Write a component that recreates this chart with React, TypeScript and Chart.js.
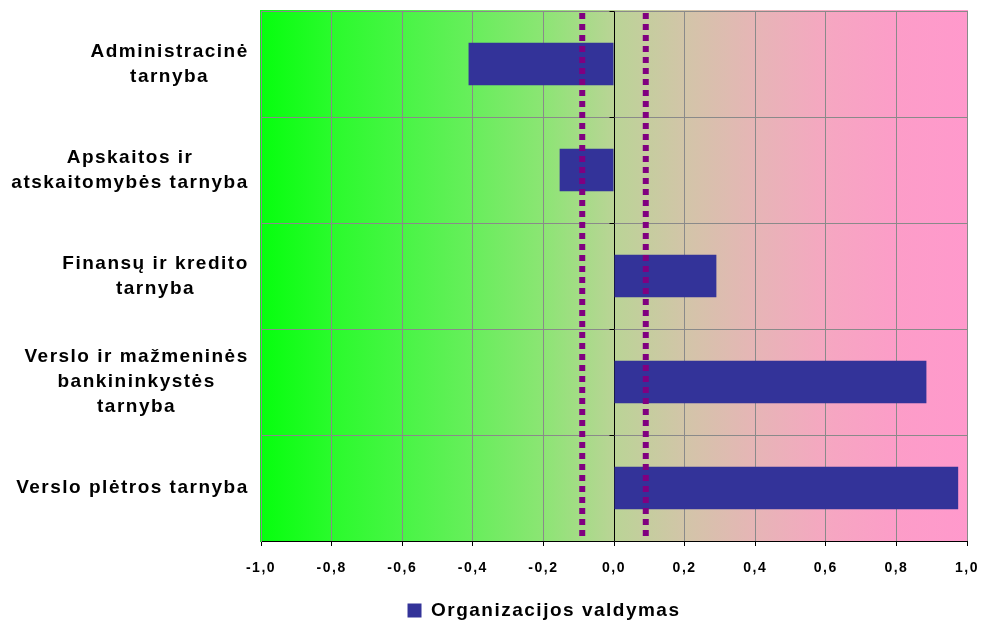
import { useEffect, useRef } from 'react';
import { Chart, registerables } from 'chart.js';

Chart.register(...registerables);

// Service units (y axis), multi-line labels
const categories: string[][] = [
  ['Administracinė', 'tarnyba'],
  ['Apskaitos ir', 'atskaitomybės tarnyba'],
  ['Finansų ir kredito', 'tarnyba'],
  ['Verslo ir mažmeninės', 'bankininkystės', 'tarnyba'],
  ['Verslo plėtros tarnyba'],
];

const seriesName = 'Organizacijos valdymas';
const seriesValues = [-0.412, -0.154, 0.29, 0.885, 0.975];

// Neutral band limits drawn as dotted vertical lines
const thresholds = [-0.09, 0.09];

const xMin = -1;
const xMax = 1;
const xStep = 0.2;

const FONT = "'Liberation Sans', Arial, sans-serif";
const LABEL_SIZE = 19;
const LABEL_LINE = 25;
const LABEL_GAP = 13;

// Background of the plot area: green (negative) to pink (positive)
const bgStops: [number, string][] = [
  [0.0, '#06ff0e'],
  [0.1, '#2afb2c'],
  [0.2, '#48f545'],
  [0.3, '#68ee5c'],
  [0.4, '#8ce574'],
  [0.5, '#bad496'],
  [0.6, '#d2c5a8'],
  [0.7, '#e6b5b6'],
  [0.8, '#f5a7c1'],
  [0.9, '#fc9dc8'],
  [1.0, '#ff99cc'],
];

const decorPlugin = {
  id: 'decor',
  beforeLayout(chart: any) {
    chart.ctx.letterSpacing = '1.5px';
  },
  afterLayout(chart: any) {
    const lg = chart.legend;
    if (lg) {
      lg.left = 103;
      lg.right = 985;
      lg.top += 10;
      lg.bottom += 10;
    }
  },
  beforeDraw(chart: any) {
    const { ctx, chartArea } = chart;
    ctx.letterSpacing = '1.5px';
    const { left, top, right, bottom } = chartArea;
    const g = ctx.createLinearGradient(left, 0, right, 0);
    bgStops.forEach(([p, c]) => g.addColorStop(p, c));
    ctx.save();
    ctx.fillStyle = g;
    ctx.fillRect(left - 1, top - 1, right - left + 2, bottom - top + 2);
    ctx.restore();
  },
  afterDatasetsDraw(chart: any) {
    const { ctx, chartArea } = chart;
    const xs = chart.scales.x;
    const ys = chart.scales.y;

    // small tick marks on the zero line at category boundaries
    const zx = Math.round(xs.getPixelForValue(0)) + 0.5;
    ctx.save();
    ctx.strokeStyle = '#000000';
    ctx.lineWidth = 1;
    for (let i = 0; i <= categories.length; i++) {
      const y = Math.round(ys.getPixelForValue(i - 0.5)) + 0.5;
      ctx.beginPath();
      ctx.moveTo(zx - 5, y);
      ctx.lineTo(zx, y);
      ctx.stroke();
    }
    ctx.restore();

    ctx.save();
    ctx.strokeStyle = '#800080';
    ctx.lineWidth = 6;
    ctx.lineCap = 'butt';
    ctx.setLineDash([6, 5]);
    thresholds.forEach((t) => {
      const px = xs.getPixelForValue(t);
      ctx.beginPath();
      ctx.moveTo(px, chartArea.top + 2);
      ctx.lineTo(px, chartArea.bottom);
      ctx.stroke();
    });
    ctx.restore();
  },
  afterDraw(chart: any) {
    // Category labels: each block sits against the axis, its lines centred within the block
    const { ctx, chartArea } = chart;
    const ys = chart.scales.y;
    const labels: string[][] = chart.data.labels;
    const rightEdge = chartArea.left - LABEL_GAP;
    ctx.save();
    ctx.letterSpacing = '1.5px';
    ctx.font = `bold ${LABEL_SIZE}px ${FONT}`;
    ctx.fillStyle = '#000000';
    ctx.textAlign = 'center';
    ctx.textBaseline = 'middle';
    labels.forEach((lines, i) => {
      const cy = ys.getPixelForTick(i);
      const widest = Math.max(...lines.map((l) => ctx.measureText(l).width));
      const cx = rightEdge - widest / 2;
      const y0 = cy - ((lines.length - 1) * LABEL_LINE) / 2;
      lines.forEach((l, k) => ctx.fillText(l, cx + 0.75, y0 + k * LABEL_LINE));
    });
    ctx.restore();
  },
};

export default function App() {
  const canvasRef = useRef<HTMLCanvasElement | null>(null);

  useEffect(() => {
    const canvas = canvasRef.current;
    if (!canvas) return;
    const chart = new Chart(canvas, {
      type: 'bar',
      data: {
        labels: categories,
        datasets: [
          {
            label: seriesName,
            data: seriesValues,
            backgroundColor: '#333399',
            borderWidth: 0,
            barPercentage: 0.4,
            categoryPercentage: 1,
          },
        ],
      },
      options: {
        indexAxis: 'y',
        responsive: false,
        animation: false,
        events: [],
        layout: { padding: { top: 11, left: 0, right: 14, bottom: 0 } },
        plugins: {
          tooltip: { enabled: false },
          legend: {
            position: 'bottom',
            align: 'center',
            labels: {
              color: '#000000',
              font: { family: FONT, size: 19, weight: 'bold' },
              boxWidth: 14,
              boxHeight: 14,
              padding: 10,
            },
          },
        },
        scales: {
          x: {
            type: 'linear',
            min: xMin,
            max: xMax,
            afterFit(scale: any) {
              scale.height = 40;
              scale.paddingLeft = 0;
              scale.paddingRight = 0;
            },
            ticks: {
              stepSize: xStep,
              color: '#000000',
              padding: 14,
              font: { family: FONT, size: 14, weight: 'bold' },
              callback: (v: any) => {
                const n = Number(v);
                return (Math.abs(n) < 1e-9 ? 0 : n).toFixed(1).replace('.', ',');
              },
            },
            grid: {
              color: (c: any) => (c.tick && Math.abs(c.tick.value) < 1e-9 ? '#000000' : '#8a8a8a'),
              lineWidth: 1,
              drawTicks: true,
              tickLength: 5,
              tickColor: '#000000',
            },
            border: { display: true, color: '#000000', width: 1 },
          },
          y: {
            type: 'category',
            afterFit(scale: any) {
              scale.width = 261;
              scale.paddingTop = 0;
              scale.paddingBottom = 0;
            },
            ticks: { display: false },
            grid: {
              color: '#8a8a8a',
              lineWidth: 1,
              drawTicks: false,
              offset: true,
            },
            border: { display: true, color: '#8a8a8a', width: 1 },
          },
        },
      },
      plugins: [decorPlugin],
    } as any);
    return () => chart.destroy();
  }, []);

  return (
    <div style={{ position: 'absolute', left: 0, top: 0, width: 981, height: 620 }}>
      <canvas ref={canvasRef} width={981} height={620} style={{ display: 'block' }} />
    </div>
  );
}
